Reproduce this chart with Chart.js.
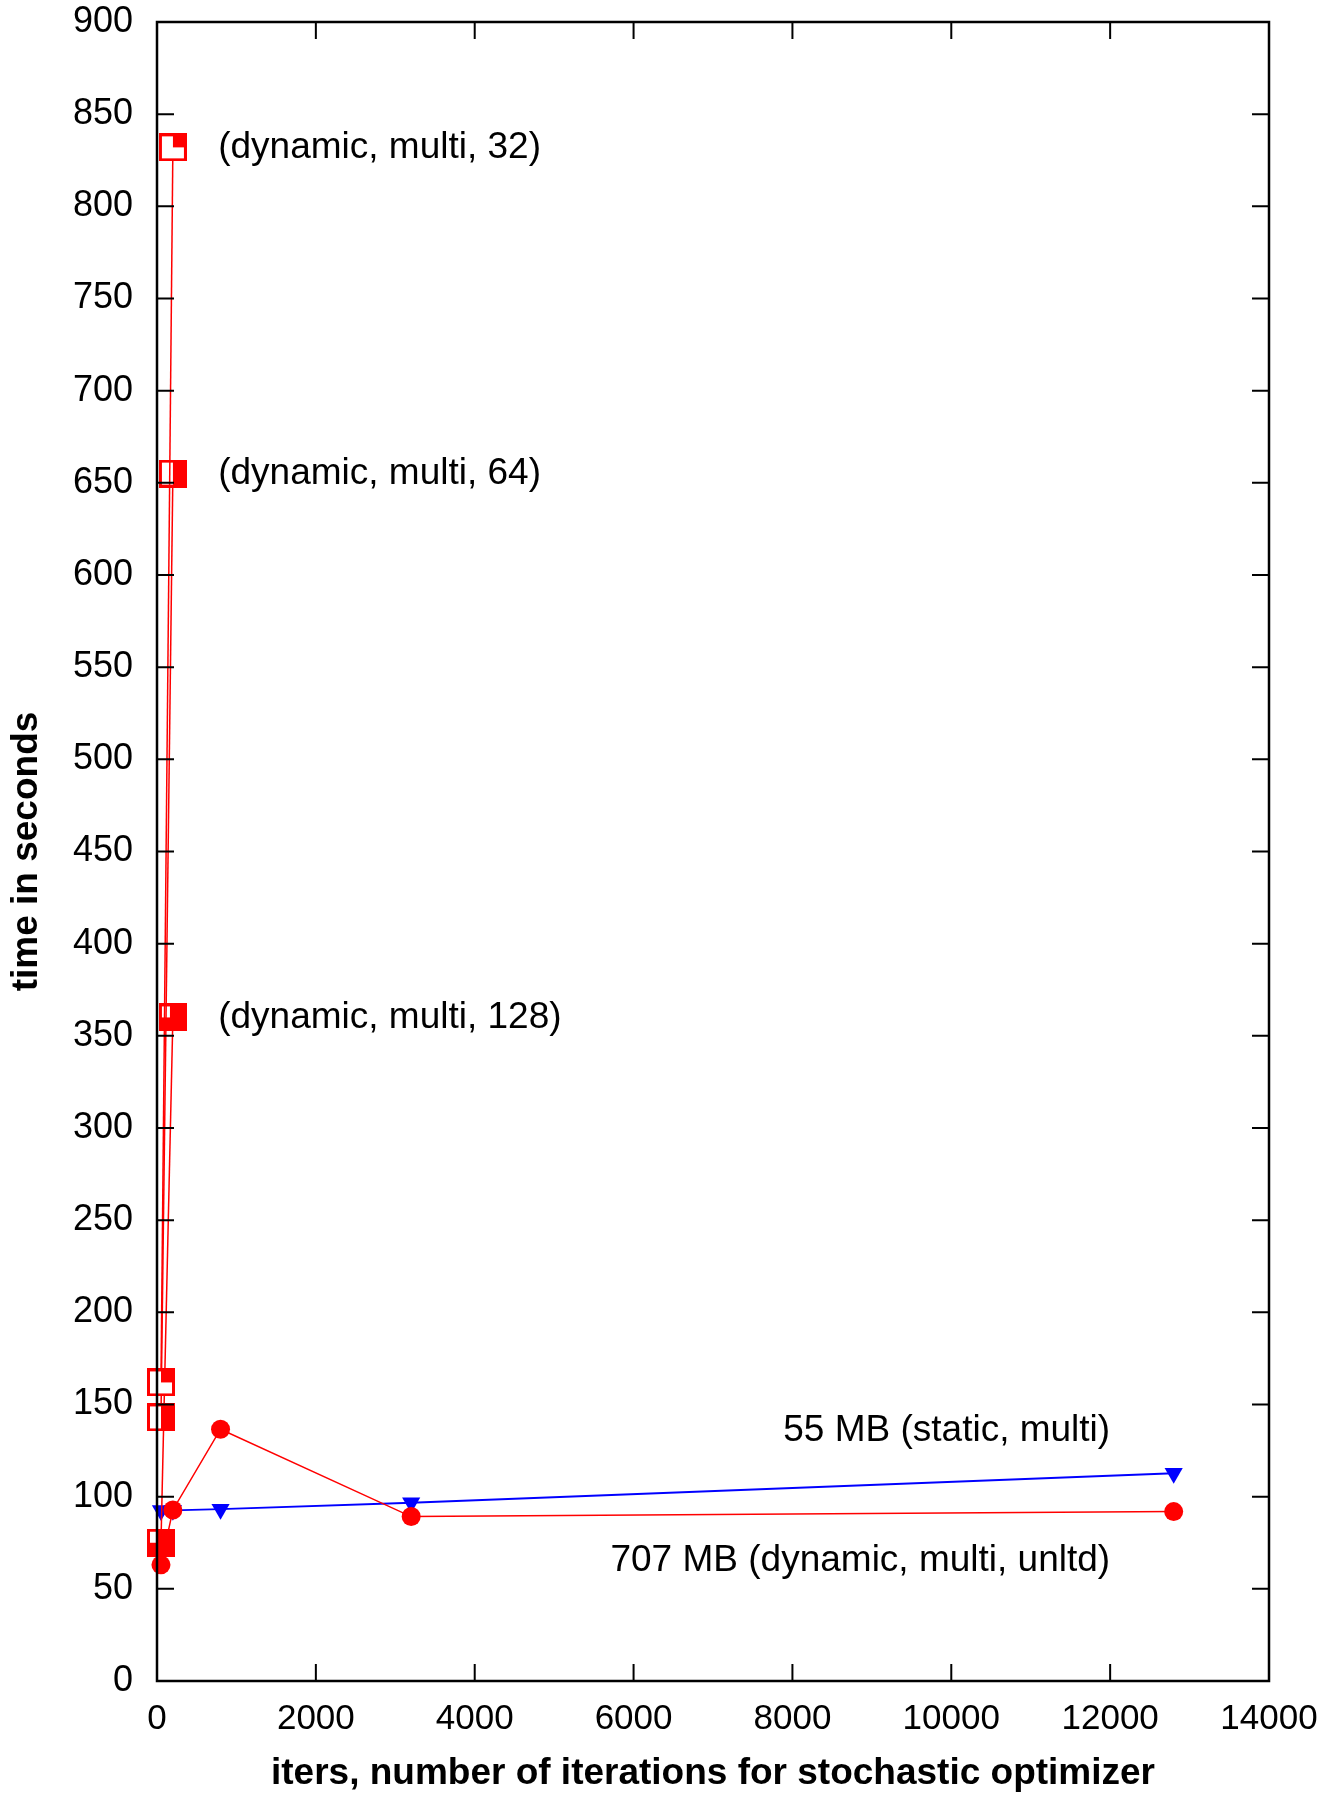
<!DOCTYPE html>
<html>
<head>
<meta charset="utf-8">
<script src="https://cdn.jsdelivr.net/npm/chart.js@4"></script>
<style>
  body { margin: 0; background: #fff; }
  canvas { display: block; }
</style>
</head>
<body>
<canvas id="myChart" width="1334" height="1796"></canvas>
<script>
// data
const sqIters = [50, 200];
const multi32 = [162, 832];
const multi64 = [143, 655];
const multi128 = [75, 360];

const iters = [50, 200, 800, 3200, 12800];
const unltd707 = [63, 92.8, 136.6, 89.2, 91.9];
const static55 = [92.5, 92.6, 93.2, 96.7, 112.7];

const xTicks = [0, 2000, 4000, 6000, 8000, 10000, 12000, 14000];
const yTicks = [0, 50, 100, 150, 200, 250, 300, 350, 400, 450, 500, 550, 600, 650, 700, 750, 800, 850, 900];

const FONT = '"Liberation Sans", Arial, sans-serif';

function toPoints(xs, ys) {
    return xs.map((x, i) => ({ x: x, y: ys[i] }));
}

// square glyphs, red outline with partly white inside
function makeSquare(whites) {
    const c = document.createElement('canvas');
    c.width = 28;
    c.height = 28;
    const g = c.getContext('2d');
    g.fillStyle = '#ff0000';
    g.fillRect(0, 0, 28, 28);
    g.fillStyle = '#ffffff';
    whites.forEach(r => g.fillRect(r[0], r[1], r[2], r[3]));
    return c;
}
const sq32 = makeSquare([[3, 3, 11, 22], [14, 14, 11, 11]]);
const sq64 = makeSquare([[3, 3, 11, 22]]);
const sq128 = makeSquare([[3, 3, 8, 11]]);

function sqSet(ys, glyph) {
    return {
        data: toPoints(sqIters, ys),
        showLine: true,
        borderColor: '#ff0000',
        borderWidth: 1.5,
        pointStyle: glyph,
        pointRadius: 14,
        clip: false
    };
}

// text labels placed in data coordinates
const notes = [
    { text: '(dynamic, multi, 32)', x: 770, y: 832, align: 'left' },
    { text: '(dynamic, multi, 64)', x: 770, y: 655, align: 'left' },
    { text: '(dynamic, multi, 128)', x: 770, y: 360, align: 'left' },
    { text: '55 MB (static, multi)', x: 12000, y: 135.6, align: 'right' },
    { text: '707 MB (dynamic, multi, unltd)', x: 12000, y: 65.3, align: 'right' }
];

const frame = {
    id: 'frame',
    afterDraw(chart) {
        const c = chart.ctx;
        const a = chart.chartArea;
        const xs = chart.scales.x, ys = chart.scales.y;
        c.save();
        c.strokeStyle = '#000';
        c.lineWidth = 2;
        const len = 17;
        c.beginPath();
        xTicks.forEach(v => {
            const p = xs.getPixelForValue(v);
            c.moveTo(p, a.bottom); c.lineTo(p, a.bottom - len);
            c.moveTo(p, a.top); c.lineTo(p, a.top + len);
        });
        yTicks.forEach(v => {
            const p = ys.getPixelForValue(v);
            c.moveTo(a.left, p); c.lineTo(a.left + len, p);
            c.moveTo(a.right, p); c.lineTo(a.right - len, p);
        });
        c.stroke();
        c.lineWidth = 2.5;
        c.strokeRect(a.left, a.top, a.right - a.left, a.bottom - a.top);

        c.fillStyle = '#000';
        c.font = '37px ' + FONT;
        c.textBaseline = 'middle';
        notes.forEach(n => {
            c.textAlign = n.align;
            c.fillText(n.text, xs.getPixelForValue(n.x), ys.getPixelForValue(n.y));
        });
        c.restore();
    }
};

const ctx = document.getElementById('myChart').getContext('2d');
const myChart = new Chart(ctx, {
    type: 'scatter',
    data: {
        datasets: [
            sqSet(multi32, sq32),
            sqSet(multi64, sq64),
            sqSet(multi128, sq128),
            {
                data: toPoints(iters, unltd707),
                showLine: true,
                borderColor: '#ff0000',
                backgroundColor: '#ff0000',
                borderWidth: 1.5,
                pointStyle: 'circle',
                pointRadius: 9.5,
                pointBorderWidth: 0,
                clip: false
            },
            {
                data: toPoints(iters, static55),
                showLine: true,
                borderColor: '#0000ff',
                backgroundColor: '#0000ff',
                borderWidth: 1.8,
                pointStyle: 'triangle',
                pointRotation: 180,
                pointRadius: 10.5,
                pointBorderWidth: 0,
                clip: false
            }
        ]
    },
    options: {
        responsive: false,
        animation: false,
        layout: { padding: { top: 22, right: 65, left: 0, bottom: 0 } },
        plugins: { legend: { display: false }, tooltip: { enabled: false } },
        scales: {
            x: {
                type: 'linear',
                min: 0,
                max: 14000,
                afterFit: s => { s.height = 115; s.paddingLeft = 0; s.paddingRight = 0; },
                afterBuildTicks: s => { s.ticks = xTicks.map(v => ({ value: v })); },
                grid: { display: false, drawTicks: false },
                border: { display: false },
                ticks: { color: '#000', font: { family: FONT, size: 35 }, padding: 17, maxRotation: 0, callback: v => String(v) },
                title: {
                    display: true,
                    text: 'iters, number of iterations for stochastic optimizer',
                    color: '#000',
                    font: { family: FONT, size: 37, weight: 'bold' },
                    padding: { top: 0, bottom: 0 }
                }
            },
            y: {
                type: 'linear',
                min: 0,
                max: 900,
                afterFit: s => { s.width = 157; s.paddingTop = 0; s.paddingBottom = 0; },
                afterBuildTicks: s => { s.ticks = yTicks.map(v => ({ value: v })); },
                grid: { display: false, drawTicks: false },
                border: { display: false },
                ticks: { color: '#000', font: { family: FONT, size: 36 }, padding: 24, callback: v => String(v) },
                title: {
                    display: true,
                    text: 'time in seconds',
                    color: '#000',
                    font: { family: FONT, size: 37, weight: 'bold' },
                    padding: { top: 5, bottom: 0 }
                }
            }
        }
    },
    plugins: [frame]
});
</script>
</body>
</html>
